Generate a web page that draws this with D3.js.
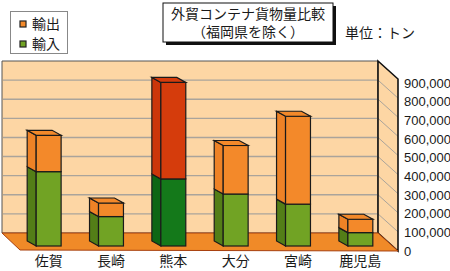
<!DOCTYPE html>
<head>
<meta charset="utf-8">
<style>
body { margin: 0; background: #fff; }
svg text { font-family: "Liberation Sans", "Noto Sans CJK JP", sans-serif; fill: #1a1a1a; }
.axis path { display: none; }
.axis line { display: none; }
</style>
<title>外貿コンテナ貨物量比較</title>
</head>
<body>
<svg width="450" height="271"></svg>
<script src="https://cdn.jsdelivr.net/npm/d3@7"></script>
<script>
// data (tons)
var categories = ["佐賀", "長崎", "熊本", "大分", "宮崎", "鹿児島"]
var imports = [389000, 154000, 351000, 272000, 219000, 70000]
var exportsT = [190000, 71000, 505000, 254000, 460000, 70000]
var tickValues = [0, 100000, 200000, 300000, 400000, 500000, 600000, 700000, 800000, 900000]
var highlight = "熊本"

var svg = d3.select("svg")

// back wall / depth geometry
var wallL = 2, wallR = 378, DX = 20, DY = 18
var y = d3.scaleLinear().domain([0, 900000]).range([233, 61])
var yLab = d3.scaleLinear().domain([0, 900000]).range([251, 83])
var x = d3.scaleBand().domain(categories).range([10, 399]).paddingInner(0.6).paddingOuter(0.42)

// bar front sits 13px in front of the wall, back face offset
var FZ = 13, BDX = -9, BDY = -5

var col = {
  exp: { front: "#f3892a", side: "#ee8226", top: "#f3892a" },
  imp: { front: "#71a324", side: "#537e17", top: "#71a324" },
  expH: { front: "#d53c0c", side: "#cc360a", top: "#d53c0c" },
  impH: { front: "#14791a", side: "#0d6614", top: "#14791a" }
}

var line = d3.line()
var poly = function(pts) { return line(pts) + "Z" }

// back wall
svg.append("path")
  .attr("d", poly([[wallL, y(900000)], [wallR, y(900000)], [wallR, y(0)], [wallL, y(0)]]))
  .attr("fill", "#fdd6a4").attr("stroke", "#555").attr("stroke-width", 1)

svg.selectAll(".grid").data(tickValues.slice(1, -1)).enter().append("line")
  .attr("x1", wallL + 1).attr("x2", wallR)
  .attr("y1", d => y(d)).attr("y2", d => y(d))
  .attr("stroke", "#aaa49b").attr("stroke-width", 1.4)

// right side wall
svg.append("path")
  .attr("d", poly([[wallR, y(900000)], [wallR + DX, y(900000) + DY], [wallR + DX, y(0) + DY], [wallR, y(0)]]))
  .attr("fill", "#fdd6a4")

svg.selectAll(".sgrid").data(tickValues.slice(1, -1)).enter().append("line")
  .attr("x1", wallR).attr("x2", wallR + DX)
  .attr("y1", d => y(d)).attr("y2", d => y(d) + DY)
  .attr("stroke", "#aaa49b").attr("stroke-width", 1)

svg.append("path")
  .attr("d", poly([[wallR, y(900000)], [wallR + DX, y(900000) + DY], [wallR + DX, y(0) + DY], [wallR, y(0)]]))
  .attr("fill", "none").attr("stroke", "#111").attr("stroke-width", 1.6)

// floor
svg.append("path")
  .attr("d", poly([[wallL, y(0)], [wallR, y(0)], [wallR + DX, y(0) + DY], [wallL + DX - 2, y(0) + DY - 1]]))
  .attr("fill", "#f08a28").attr("stroke", "#a8400e").attr("stroke-width", 1)

// bars
var bars = svg.selectAll(".bar").data(categories).enter().append("g").attr("class", "bar")

bars.each(function(c, i) {
  var g = d3.select(this)
  var hl = c === highlight
  var segs = [
    { v0: 0, v1: imports[i], k: hl ? col.impH : col.imp },
    { v0: imports[i], v1: imports[i] + exportsT[i], k: hl ? col.expH : col.exp }
  ]
  var x0 = x(c), x1 = x(c) + x.bandwidth()
  segs.forEach(function(s, j) {
    var yb = y(s.v0) + FZ, yt = y(s.v1) + FZ
    g.append("path")
      .attr("d", poly([[x0 + BDX, yt + BDY], [x0, yt], [x0, yb], [x0 + BDX, yb + BDY]]))
      .attr("fill", s.k.side).attr("stroke", "#1a1a1a").attr("stroke-width", 1.2)
    g.append("rect")
      .attr("x", x0).attr("y", yt).attr("width", x1 - x0).attr("height", yb - yt)
      .attr("fill", s.k.front).attr("stroke", "#1a1a1a").attr("stroke-width", 1.2)
    if (j === segs.length - 1) {
      g.append("path")
        .attr("d", poly([[x0 + BDX, yt + BDY], [x1 + BDX, yt + BDY], [x1, yt], [x0, yt]]))
        .attr("fill", s.k.top).attr("stroke", "#1a1a1a").attr("stroke-width", 1.2)
    }
  })
})

// value axis on the right
svg.append("g")
  .attr("class", "axis")
  .attr("transform", "translate(" + (wallR + DX + 3) + ",0)")
  .call(d3.axisRight(yLab).tickValues(tickValues).tickSize(0).tickPadding(3).tickFormat(d3.format(",")))
  .selectAll("text").style("font-size", "13px")

// category axis
svg.append("g")
  .attr("class", "axis")
  .attr("transform", "translate(0,254)")
  .call(d3.axisBottom(x).tickSize(0).tickPadding(2))
  .selectAll("text").style("font-size", "14px")

// title box
svg.append("rect").attr("x", 166).attr("y", 6).attr("width", 170).attr("height", 39).attr("fill", "#111")
svg.append("rect").attr("x", 163).attr("y", 3).attr("width", 170).attr("height", 39)
  .attr("fill", "#fff").attr("stroke", "#111").attr("stroke-width", 1)
svg.append("text").attr("x", 248).attr("y", 19).attr("text-anchor", "middle")
  .style("font-size", "14px").text("外貿コンテナ貨物量比較")
svg.append("text").attr("x", 248).attr("y", 37).attr("text-anchor", "middle")
  .style("font-size", "14px").text("（福岡県を除く）")
svg.append("text").attr("x", 345).attr("y", 38)
  .style("font-size", "14px").text("単位：トン")

// legend
var legend = [
  { name: "輸出", c: col.exp.front },
  { name: "輸入", c: col.imp.front }
]
svg.append("rect").attr("x", 10.5).attr("y", 11.5).attr("width", 57).attr("height", 42)
  .attr("fill", "#fff").attr("stroke", "#888").attr("stroke-width", 1)
var li = svg.selectAll(".leg").data(legend).enter().append("g")
  .attr("transform", (d, i) => "translate(20," + (21 + i * 20) + ")")
li.append("rect").attr("width", 6).attr("height", 6)
  .attr("fill", d => d.c).attr("stroke", "#222").attr("stroke-width", 1.2)
li.append("text").attr("x", 12).attr("y", 8).style("font-size", "14px").text(d => d.name)
</script>
</body>
